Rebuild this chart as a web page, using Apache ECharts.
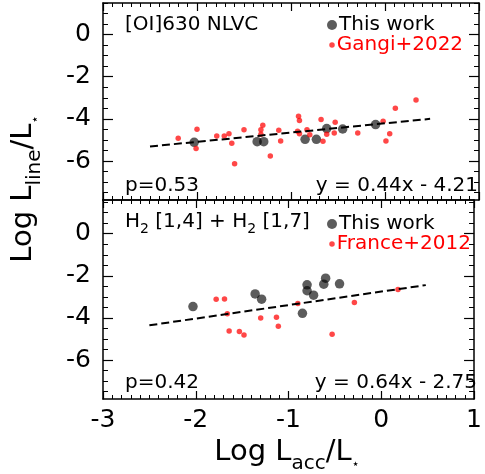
<!DOCTYPE html>
<html>
<head>
<meta charset="utf-8">
<script src="https://cdn.jsdelivr.net/npm/echarts@6/dist/echarts.min.js"></script>
<style>
  html, body { margin: 0; padding: 0; background: #fff; }
  #chart { width: 485px; height: 474px; }
</style>
</head>
<body>
<div id="chart"></div>
<script>
// ---- data ----
const xTicks = [-3, -2, -1, 0, 1];
const yTickLabels = [-6, -4, -2, 0];
const yMinorTicks = [-7.5, -7, -6.5, -6, -5.5, -5, -4.5, -4, -3.5, -3, -2.5, -2, -1.5, -1, -0.5, 0, 0.5, 1, 1.5];

// [OI]630 NLVC panel
const oiThisWorkX = [-2.03, -1.36, -1.29, -0.85, -0.73, -0.62, -0.45, -0.10];
const oiThisWorkY = [-5.11, -5.08, -5.08, -4.97, -4.97, -4.46, -4.48, -4.27];
const gangiX = [-2.20, -2.00, -2.01, -1.79, -1.71, -1.66, -1.63, -1.60, -1.50, -1.32, -1.30, -1.32, -1.22, -1.13, -1.11,
  -0.92, -0.91, -0.93, -0.91, -0.83, -0.80, -0.68, -0.66, -0.62, -0.53, -0.54, -0.29, -0.02, 0.01, 0.05, 0.11, 0.33];
const gangiY = [-4.92, -4.49, -5.41, -4.81, -4.81, -4.71, -5.16, -6.13, -4.51, -4.51, -4.30, -4.73, -5.76, -4.54, -5.05,
  -3.87, -4.08, -4.59, -4.71, -4.52, -4.75, -4.03, -5.06, -4.73, -4.16, -4.67, -4.67, -4.11, -5.05, -4.71, -3.49, -3.10];
const oiSlope = 0.44, oiIntercept = -4.21, oiP = '0.53';

// H2 panel
const h2ThisWorkX = [-2.03, -1.36, -1.29, -0.85, -0.80, -0.80, -0.73, -0.62, -0.60, -0.45];
const h2ThisWorkY = [-3.46, -2.86, -3.11, -3.78, -2.43, -2.71, -2.92, -2.40, -2.11, -2.38];
const franceX = [-1.78, -1.69, -1.66, -1.64, -1.53, -1.48, -1.30, -1.13, -1.11, -0.90, -0.53, -0.29, 0.18];
const franceY = [-3.11, -3.10, -3.80, -4.62, -4.65, -4.81, -4.00, -3.97, -4.40, -3.32, -4.78, -3.27, -2.65];
const h2Slope = 0.64, h2Intercept = -2.75, h2P = '0.42';

const fitRange = [-2.5, 0.48];

// ---- helpers ----
const FONT = 'DejaVu Sans';
const zip = (xs, ys) => xs.map((x, i) => [x, ys[i]]);
const fitLine = (m, b) => fitRange.map(x => [x, m * x + b]);
const fmt = v => (v < 0 ? '- ' + Math.abs(v).toFixed(2) : '+ ' + v.toFixed(2));

const panels = [
  { top: 3, height: 197, yMin: -7.85, yMax: 1.5 },
  { top: 200, height: 199, yMin: -7.85, yMax: 1.6 }
];

const grid = panels.map(p => ({ left: 103, width: 376, top: p.top, height: p.height }));

const frameLine = { show: true, onZero: false, lineStyle: { color: '#000', width: 1.5 } };

const xAxis = [];
panels.forEach((p, gi) => {
  ['bottom', 'top'].forEach(pos => {
    xAxis.push({
      type: 'value', gridIndex: gi, position: pos, min: xTicks[0], max: xTicks[xTicks.length - 1], interval: 1,
      axisLine: frameLine,
      axisTick: { show: true, inside: true, length: 8, lineStyle: { color: '#000', width: 1.2 } },
      minorTick: { show: true, splitNumber: 10, length: 4, lineStyle: { color: '#000', width: 1 } },
      splitLine: { show: false }, minorSplitLine: { show: false },
      axisLabel: {
        show: gi === 1 && pos === 'bottom', margin: 9, fontSize: 25, fontFamily: FONT, color: '#000',
        showMinLabel: true, showMaxLabel: true
      }
    });
  });
});

const yAxis = [];
panels.forEach((p, gi) => {
  ['left', 'right'].forEach(pos => {
    // major ticks (with labels on the left)
    yAxis.push({
      type: 'value', gridIndex: gi, position: pos, min: p.yMin, max: p.yMax,
      axisLine: frameLine,
      axisTick: { show: true, inside: true, length: 10, customValues: yTickLabels, lineStyle: { color: '#000', width: 1.2 } },
      splitLine: { show: false },
      axisLabel: {
        show: pos === 'left', customValues: yTickLabels, margin: 12, fontSize: 25, fontFamily: FONT, color: '#000',
        padding: [4, 0, 0, 0]
      }
    });
    // minor ticks every 0.5
    yAxis.push({
      type: 'value', gridIndex: gi, position: pos, min: p.yMin, max: p.yMax,
      axisLine: { show: false, onZero: false },
      axisTick: { show: true, inside: true, length: 5, customValues: yMinorTicks, lineStyle: { color: '#000', width: 1 } },
      splitLine: { show: false },
      axisLabel: { show: false }
    });
  });
});

const blackDot = { color: 'rgba(0,0,0,0.8)' };
const redDot = { color: 'rgba(255,0,0,0.9)' };
const dash = { color: '#000', width: 2, type: [8, 4] };

const series = [
  { name: 'This work', type: 'scatter', xAxisIndex: 0, yAxisIndex: 0, symbolSize: 9.5, itemStyle: blackDot, data: zip(oiThisWorkX, oiThisWorkY), z: 3 },
  { name: 'Gangi+2022', type: 'scatter', xAxisIndex: 0, yAxisIndex: 0, symbolSize: 5.5, itemStyle: redDot, data: zip(gangiX, gangiY), z: 4 },
  { name: 'fit1', type: 'line', xAxisIndex: 0, yAxisIndex: 0, showSymbol: false, lineStyle: dash, data: fitLine(oiSlope, oiIntercept), z: 5 },
  { name: 'This work', type: 'scatter', xAxisIndex: 2, yAxisIndex: 4, symbolSize: 9.5, itemStyle: blackDot, data: zip(h2ThisWorkX, h2ThisWorkY), z: 3 },
  { name: 'France+2012', type: 'scatter', xAxisIndex: 2, yAxisIndex: 4, symbolSize: 5.5, itemStyle: redDot, data: zip(franceX, franceY), z: 4 },
  { name: 'fit2', type: 'line', xAxisIndex: 2, yAxisIndex: 4, showSymbol: false, lineStyle: dash, data: fitLine(h2Slope, h2Intercept), z: 5 }
];

const legendItem = (name, color, size, cx, cy) => ({
  data: [{ name: name, icon: 'circle' }],
  selectedMode: false, padding: 0, left: cx - size / 2, top: cy - 10,
  itemWidth: size, itemHeight: size,
  textStyle: { fontSize: 20, fontFamily: FONT, color: color, lineHeight: 20, padding: [0, 0, 0, -3] }
});

const legend = [
  legendItem('This work', '#000', 10, 332, 25),
  legendItem('Gangi+2022', '#ff0000', 5.5, 332, 45),
  legendItem('This work', '#000', 10, 332, 224),
  legendItem('France+2012', '#ff0000', 5.5, 332, 244)
];

const txt = (text, x, y, align) => ({
  type: 'text', x: x, y: y, z: 10,
  style: { text: text, fontSize: 20, fontFamily: FONT, fill: '#000', align: align || 'left', verticalAlign: 'middle' }
});

const richTitle = (text, x, y, rotation) => ({
  type: 'text', x: x, y: y, rotation: rotation || 0, z: 10,
  style: {
    text: text, align: 'center', verticalAlign: 'middle', fill: '#000',
    rich: {
      a: { fontSize: 29, fontFamily: FONT, fill: '#000', verticalAlign: 'bottom', padding: [0, 0, 7, 0] },
      s: { fontSize: 20, fontFamily: FONT, fill: '#000', verticalAlign: 'bottom' },
      st: { fontSize: 13, fontFamily: FONT, fill: '#000', verticalAlign: 'bottom', padding: [0, 0, 3, 0] }
    }
  }
});

const graphic = [
  txt('[OI]630 NLVC', 125, 25),
  txt('p=' + oiP, 125, 186),
  txt('y = ' + oiSlope.toFixed(2) + 'x ' + fmt(oiIntercept), 478, 186, 'right'),
  {
    type: 'text', x: 125, y: 224, z: 10,
    style: {
      text: '{t|H}{s|2}{t| [1,4] + H}{s|2}{t| [1,7]}', align: 'left', verticalAlign: 'middle',
      rich: {
        t: { fontSize: 20, fontFamily: FONT, fill: '#000', verticalAlign: 'bottom', padding: [0, 0, 4, 0] },
        s: { fontSize: 14, fontFamily: FONT, fill: '#000', verticalAlign: 'bottom' }
      }
    }
  },
  txt('p=' + h2P, 125, 383),
  txt('y = ' + h2Slope.toFixed(2) + 'x ' + fmt(h2Intercept), 477, 383, 'right'),
  richTitle('{a|Log L}{s|acc}{a|/L}{st|⋆}', 287, 456),
  richTitle('{a|Log L}{s|line}{a|/L}{st|⋆}', 27, 189, Math.PI / 2)
];

const chart = echarts.init(document.getElementById('chart'), null, { renderer: 'canvas' });
chart.setOption({
  animation: false,
  backgroundColor: '#fff',
  grid: grid,
  xAxis: xAxis,
  yAxis: yAxis,
  legend: legend,
  series: series,
  graphic: graphic
});
</script>
</body>
</html>
